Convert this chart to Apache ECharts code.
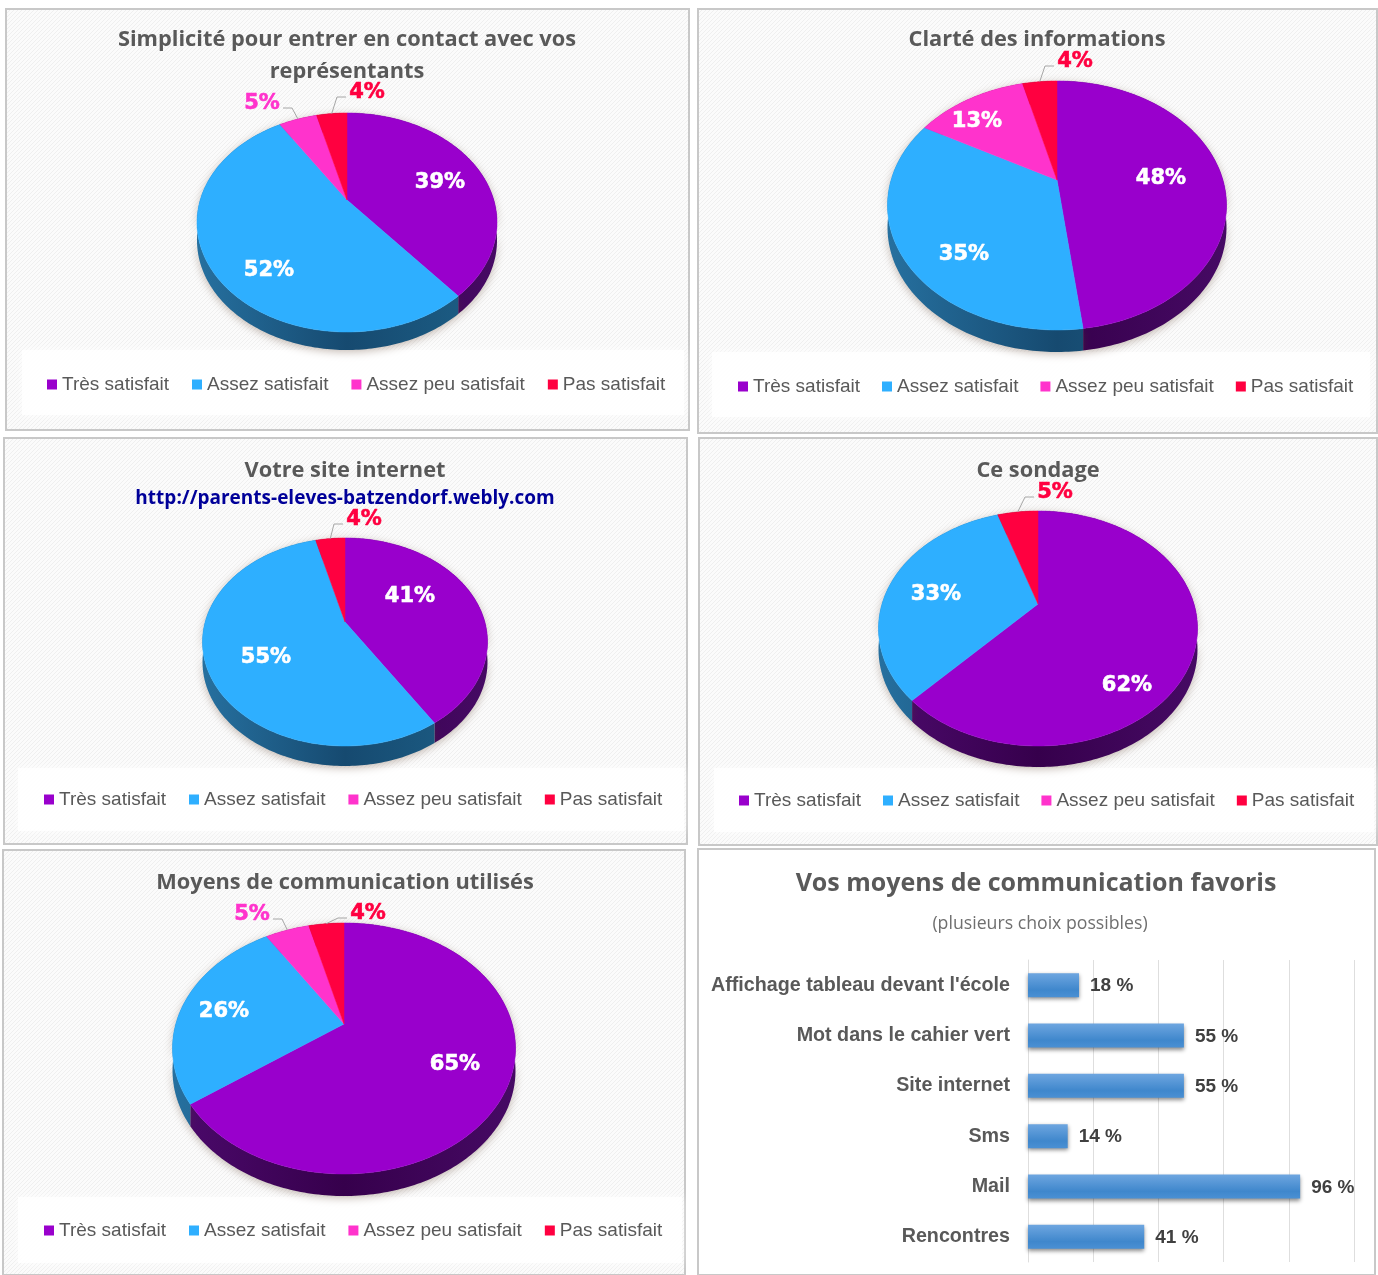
<!DOCTYPE html>
<html>
<head>
<meta charset="utf-8">
<title>Enquête de satisfaction</title>
<script src="https://cdn.jsdelivr.net/npm/echarts@6/dist/echarts.min.js"></script>
<style>
  html, body { margin: 0; padding: 0; background: #fff; }
  #chart { width: 1378px; height: 1275px; }
</style>
</head>
<body>
<div id="chart"></div>
<script>
// categories des camemberts
const categories = ['Très satisfait', 'Assez satisfait', 'Assez peu satisfait', 'Pas satisfait'];
// une valeur par camembert
const tresSatisfait = [39, 48, 41, 62, 65];
const assezSatisfait = [52, 35, 55, 33, 26];
const assezPeuSatisfait = [5, 13, 0, 0, 5];
const pasSatisfait = [4, 4, 4, 5, 4];
// barres du dernier graphique
const moyens = ['Affichage tableau devant l\'école', 'Mot dans le cahier vert', 'Site internet', 'Sms', 'Mail', 'Rencontres'];
const moyensValeurs = [18, 55, 55, 14, 96, 41];

const colors = ['#9900cc', '#2eafff', '#ff33cc', '#ff0040'];
const sideColors = [['#4c0a6c', '#36004c', '#460a64'], ['#26709f', '#164a70', '#1d6088'], ['#8c1c70', '#6c0c50', '#8c1c70'], ['#8c0024', '#6c001c', '#8c0024']];
const series1 = [tresSatisfait, assezSatisfait, assezPeuSatisfait, pasSatisfait];

// mise en page des panneaux : cadre, sommet du camembert, ellipse en perspective, legende
const panels = [
  { box: [6, 9, 683, 421], band: [22, 350, 662, 65], cx: 347, ay: 200, top: 113, bottom: 332, half: 150, depth: 18, legend: [47, 375], gap: 23,
    titleX: 347, titleY: 24, title: 'Simplicité pour entrer en contact avec vos\nreprésentants',
    labels: [[440, 180], [269, 268], [262, 101, 1], [367, 90, 1]] },
  { box: [698, 9, 679, 424], band: [712, 352, 658, 65], cx: 1057, ay: 180, top: 81, bottom: 330, half: 169.5, depth: 22, legend: [738, 377], gap: 22,
    titleX: 1037, titleY: 24, title: 'Clarté des informations',
    labels: [[1161, 176], [964, 252], [977, 119], [1075, 59, 1]] },
  { box: [4, 438, 683, 406], band: [18, 768, 666, 63], cx: 345, ay: 622, top: 538, bottom: 746, half: 142.5, depth: 20, legend: [44, 790], gap: 23,
    titleX: 345, titleY: 455, title: 'Votre site internet',
    labels: [[410, 594], [266, 655], null, [364, 517, 1]] },
  { box: [699, 438, 678, 407], band: [714, 768, 660, 64], cx: 1038, ay: 604, top: 511, bottom: 746, half: 159.5, depth: 21, legend: [739, 791], gap: 22,
    titleX: 1038, titleY: 455, title: 'Ce sondage',
    labels: [[1127, 683], [936, 592], null, [1055, 490, 1]] },
  { box: [3, 850, 682, 425], band: [18, 1197, 664, 66], cx: 344, ay: 1024, top: 923, bottom: 1174, half: 171.5, depth: 22, legend: [44, 1221], gap: 23,
    titleX: 345, titleY: 867, title: 'Moyens de communication utilisés',
    labels: [[455, 1062], [224, 1009], [252, 912, 1], [368, 911, 1]] }
];

// hachure tres legere du fond des panneaux
const hatch = document.createElement('canvas');
hatch.width = 4;
hatch.height = 4;
const hctx = hatch.getContext('2d');
hctx.fillStyle = '#fbfbfb';
hctx.fillRect(0, 0, 4, 4);
hctx.strokeStyle = '#efefef';
hctx.beginPath();
hctx.moveTo(0, 4);
hctx.lineTo(4, 0);
hctx.stroke();

// projection d'un point du disque (angle en degres depuis le haut, sens horaire)
function project(p, angle, f) {
  const dy = p.bottom - p.ay;
  const up = p.ay - p.top;
  const k = (dy / up - 1) / (dy / up + 1);
  const ry = up * (1 + k);
  const rx = p.half * Math.sqrt(1 - k * k);
  const a = angle * Math.PI / 180;
  const u = f * Math.sin(a);
  const v = f * Math.cos(a);
  const w = 1 + k * v;
  return [p.cx + rx * u / w, p.ay - ry * v / w];
}

function sliceRange(panelIndex, catIndex) {
  let before = 0;
  let total = 0;
  series1.forEach(function (arr, i) {
    total += arr[panelIndex];
    if (i < catIndex) before += arr[panelIndex];
  });
  return [before / total * 360, (before + series1[catIndex][panelIndex]) / total * 360];
}

function arc(p, a0, a1) {
  const pts = [];
  const n = Math.max(2, Math.ceil(a1 - a0));
  for (let i = 0; i <= n; i++) {
    pts.push(project(p, a0 + (a1 - a0) * i / n, 1));
  }
  return pts;
}

const series = [];
const legends = [];
const titles = [];
const graphics = [];

panels.forEach(function (p, pi) {
  graphics.push({ type: 'rect', z: 0, shape: { x: p.box[0], y: p.box[1], width: p.box[2], height: p.box[3] },
    style: { fill: { image: hatch, repeat: 'repeat' }, stroke: '#c8c8c8', lineWidth: 2 } });
  graphics.push({ type: 'rect', z: 1, shape: { x: p.band[0], y: p.band[1], width: p.band[2], height: p.band[3] },
    style: { fill: 'rgba(255,255,255,0.8)', shadowBlur: 10, shadowColor: 'rgba(255,255,255,0.9)' } });

  titles.push({ text: p.title, left: p.titleX, top: p.titleY, textAlign: 'center', padding: 0,
    textStyle: { fontFamily: 'Open Sans', fontSize: 21.8, fontWeight: 700, color: '#595959', lineHeight: 32 } });

  legends.push({ data: categories, left: p.legend[0], top: p.legend[1], padding: 0, itemWidth: 10, itemHeight: 10, itemGap: p.gap,
    icon: 'rect', selectedMode: false, orient: 'horizontal',
    textStyle: { fontFamily: 'Liberation Sans', fontSize: 19, color: '#595959' } });

  // cotes du camembert, dessines sous les faces
  series.push({
    type: 'custom', name: 'cotes', coordinateSystem: 'none', silent: true, z: 3,
    data: series1.map(function (arr) { return arr[pi]; }),
    renderItem: function (params, api) {
      const c = params.dataIndex;
      if (!api.value(0)) return null;
      const range = sliceRange(pi, c);
      const top = arc(p, range[0], range[1]);
      const low = top.map(function (q) { return [q[0], q[1] + p.depth]; }).reverse();
      return {
        type: 'polygon',
        shape: { points: top.concat(low) },
        style: {
          fill: new echarts.graphic.LinearGradient(p.cx - p.half, 0, p.cx + p.half, 0, [
            { offset: 0, color: sideColors[c][0] },
            { offset: 0.5, color: sideColors[c][1] },
            { offset: 1, color: sideColors[c][2] }
          ], true),
          shadowBlur: 8, shadowColor: 'rgba(90,60,40,0.35)', shadowOffsetY: 2
        }
      };
    }
  });

  // faces : une serie par categorie pour la legende
  categories.forEach(function (cat, ci) {
    series.push({
      type: 'custom', name: cat, coordinateSystem: 'none', silent: true, z: 4,
      itemStyle: { color: colors[ci] },
      data: [series1[ci][pi]],
      renderItem: function (params, api) {
        if (!api.value(0)) return null;
        const range = sliceRange(pi, ci);
        return {
          type: 'polygon',
          shape: { points: [[p.cx, p.ay]].concat(arc(p, range[0], range[1])) },
          style: { fill: colors[ci], stroke: colors[ci], lineWidth: 0.5 }
        };
      }
    });
  });

  // etiquettes de valeur et traits de rappel
  series.push({
    type: 'custom', name: 'etiquettes', coordinateSystem: 'none', silent: true, z: 5,
    data: series1.map(function (arr) { return arr[pi]; }),
    renderItem: function (params, api) {
      const c = params.dataIndex;
      const lab = p.labels[c];
      if (!api.value(0) || !lab) return null;
      const fill = lab[2] ? colors[c] : '#ffffff';
      const children = [{
        type: 'text',
        style: { text: api.value(0) + '%', x: lab[0], y: lab[1] + 3, align: 'center', verticalAlign: 'middle',
          fill: fill, stroke: fill, lineWidth: 0.6, font: 'bold 21px "DejaVu Sans"' }
      }];
      if (lab[2]) {
        const range = sliceRange(pi, c);
        const rim = project(p, (range[0] + range[1]) / 2, 1);
        const side = lab[0] > rim[0] ? -1 : 1;
        const endX = lab[0] + side * 21;
        children.push({
          type: 'polyline',
          shape: { points: [[rim[0], rim[1]], [endX + side * 9, lab[1] + 7], [endX, lab[1] + 7]] },
          style: { stroke: '#a6a6a6', lineWidth: 1, fill: 'none' }
        });
      }
      return { type: 'group', children: children };
    }
  });
});

// dernier panneau, fond blanc
graphics.push({ type: 'rect', z: 0, shape: { x: 698, y: 849, width: 677, height: 426 },
  style: { fill: '#ffffff', stroke: '#c8c8c8', lineWidth: 2 } });
// sous-titre de l'url
titles.push({ text: 'http://parents-eleves-batzendorf.webly.com', left: 345, top: 489, textAlign: 'center', padding: 0,
  textStyle: { fontFamily: 'Open Sans', fontSize: 19, fontWeight: 700, color: '#000099' } });
titles.push({ text: 'Vos moyens de communication favoris', left: 1036, top: 871, textAlign: 'center', padding: 0,
  textStyle: { fontFamily: 'Open Sans', fontSize: 25, fontWeight: 700, color: '#595959' } });
titles.push({ text: '(plusieurs choix possibles)', left: 1040, top: 915, textAlign: 'center', padding: 0,
  textStyle: { fontFamily: 'Open Sans', fontSize: 17.7, fontWeight: 400, color: '#6f6f6f' } });

series.push({
  type: 'bar',
  name: 'Moyens',
  data: moyensValeurs,
  barWidth: 24,
  silent: true,
  z: 4,
  itemStyle: {
    color: new echarts.graphic.LinearGradient(0, 0, 0, 1, [
      { offset: 0, color: '#6ea6e0' },
      { offset: 0.7, color: '#3f87cc' },
      { offset: 1, color: '#4a90d4' }
    ]),
    shadowBlur: 4, shadowColor: 'rgba(0,0,0,0.45)', shadowOffsetY: 2
  },
  label: {
    show: true, position: 'right', distance: 11, offset: [0, 1], formatter: '{c} %',
    fontFamily: 'Liberation Sans', fontWeight: 'bold', fontSize: 19, color: '#404040'
  }
});

const chart = echarts.init(document.getElementById('chart'));
chart.setOption({
  animation: false,
  title: titles,
  legend: legends,
  graphic: graphics,
  grid: { left: 1028, top: 960, width: 326, height: 302, containLabel: false },
  xAxis: {
    type: 'value', min: 0, max: 115, interval: 23,
    axisLabel: { show: false }, axisLine: { show: false }, axisTick: { show: false },
    splitLine: { lineStyle: { color: '#dedede' } }
  },
  yAxis: {
    type: 'category', inverse: true, data: moyens,
    axisTick: { show: false },
    axisLine: { lineStyle: { color: '#dedede' } },
    axisLabel: { margin: 18, fontFamily: 'Liberation Sans', fontWeight: 'bold', fontSize: 19.7, color: '#595959' }
  },
  series: series
});
</script>
</body>
</html>
